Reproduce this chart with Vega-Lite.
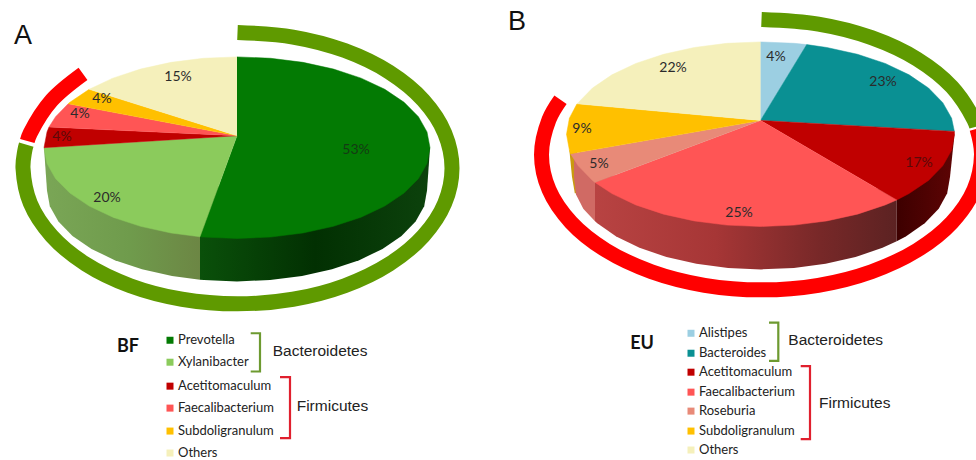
{
  "$schema": "https://vega.github.io/schema/vega-lite/v6.json",
  "width": 976,
  "height": 460,
  "autosize": {"type": "fit", "contains": "padding"},
  "padding": 0,
  "background": "white",
  "view": {"stroke": null},
  "config": {"text": {"font": "Lato"}},
  "datasets": {
    "walls": [
      {"id": "BF wall Prevotella", "xs": [200,203.9,237,270.1,302,332,359.2,382.5,401.5,415.6,424.2,427,430,200], "ys": [280.3,280.6,282,280.6,276.5,269.8,260.7,249.5,236.5,222.1,206.8,191,148,190]},
      {"id": "BF wall Xylanibacter", "xs": [200,200,172,142,114.8,91.5,72.5,58.4,49.8,47,44], "ys": [190,280.3,276.5,269.8,260.7,249.5,236.5,222.1,206.8,191,148]},
      {"id": "EU wall Faecalibacterium", "xs": [595,595,597.3,616.2,639.5,666.5,696.4,728.1,761,793.9,825.6,855.5,882.5,896.7,896.7], "ys": [175,221.7,223.8,237,248.4,257.6,264.4,268.6,270,268.6,264.4,257.6,248.4,241.9,190]},
      {"id": "EU wall Acetitomaculum", "xs": [896.7,896.7,905.8,924.7,938.7,947.2,950,954.5], "ys": [190,241.9,237,223.8,209.1,193.6,177.5,134.5]},
      {"id": "EU wall Subdoligranulum", "xs": [569.4,572,574.8,577,577], "ys": [150.6,177.5,193.6,193.6,150]},
      {"id": "EU wall Roseburia", "xs": [595,595,583.3,576,574,574], "ys": [175,221.7,209.1,195,177.5,150]}
    ],
    "slices": [
      {"id": "BF Prevotella", "part": "Prevotella", "share": 0.53, "xs": [237,237,270.6,303,333.5,361.1,384.8,404.1,418.4,427,430,427,418.4,404.1,384.8,361.1,333.5,303,270.6,237,203.4,200], "ys": [136,57,58.4,62.5,69.2,78.3,89.5,102.5,116.9,132.2,148,163.8,179.1,193.5,206.5,217.7,226.8,233.5,237.6,239,237.6,237.3]},
      {"id": "BF Xylanibacter", "part": "Xylanibacter", "share": 0.20, "xs": [237,200,171,140.5,112.9,89.2,69.9,55.6,47,44], "ys": [136,237.3,233.5,226.8,217.7,206.5,193.5,179.1,163.8,148]},
      {"id": "BF Acetitomaculum", "part": "Acetitomaculum", "share": 0.04, "xs": [237,44,47,49], "ys": [136,148,132.2,127.3]},
      {"id": "BF Faecalibacterium", "part": "Faecalibacterium", "share": 0.04, "xs": [237,49,55.6,68.2], "ys": [136,127.3,116.9,104]},
      {"id": "BF Subdoligranulum", "part": "Subdoligranulum", "share": 0.04, "xs": [237,68.2,69.9,89.2], "ys": [136,104,102.5,89.5]},
      {"id": "BF Others", "part": "Others", "share": 0.15, "xs": [237,89.2,112.9,140.5,171,203.4,237], "ys": [136,89.5,78.3,69.2,62.5,58.4,57]},
      {"id": "EU Alistipes", "part": "Alistipes", "share": 0.04, "xs": [760.5,760.5,794.2,806.7], "ys": [120.7,42,43.4,44.7]},
      {"id": "EU Bacteroides", "part": "Bacteroides", "share": 0.23, "xs": [760.5,806.7,826.8,857.5,885.2,909.1,928.5,942.8,951.6,954.4], "ys": [120.7,44.7,47.6,54.4,63.6,75,88.2,102.9,118.4,131.7]},
      {"id": "EU Acetitomaculum", "part": "Acetitomaculum", "share": 0.17, "xs": [760.5,954.4,954.5,951.6,942.8,928.5,909.1,896.7], "ys": [120.7,131.7,134.5,150.6,166.1,180.8,194,200.4]},
      {"id": "EU Faecalibacterium", "part": "Faecalibacterium", "share": 0.25, "xs": [760.5,896.7,885.2,857.5,826.8,794.2,760.5,726.8,694.2,663.5,635.8,611.9,595], "ys": [120.7,200.4,205.4,214.6,221.4,225.6,227,225.6,221.4,214.6,205.4,194,182.8]},
      {"id": "EU Roseburia", "part": "Roseburia", "share": 0.05, "xs": [760.5,595,592.5,578.2,570.5], "ys": [120.7,182.8,180.8,166.1,154]},
      {"id": "EU Subdoligranulum", "part": "Subdoligranulum", "share": 0.09, "xs": [760.5,570.5,569.4,566.5,569.4,577], "ys": [120.7,154,150.6,134.5,118.4,104]},
      {"id": "EU Others", "part": "Others", "share": 0.22, "xs": [760.5,577,578.2,592.5,611.9,635.8,663.5,694.2,726.8,760.5], "ys": [120.7,104,102.9,88.2,75,63.6,54.4,47.6,43.4,42]}
    ],
    "rings": [
      {"id": "BF Bacteroidetes", "phylum": "Bacteroidetes", "xs": [237.5,293,344.8,389.2,423.3,444.7,452,444.7,423.3,389.2,344.8,293,237.5,182,130.2,85.8,51.7,30.3,23,24.6,26.3], "ys": [32.5,37.1,50.7,72.3,100.5,133.3,168.5,203.7,236.5,264.7,286.3,299.9,304.5,299.9,286.3,264.7,236.5,203.7,168.5,152,144.9]},
      {"id": "BF Firmicutes", "phylum": "Firmicutes", "xs": [27.3,30.3,51.7,83], "ys": [141.3,133.3,100.5,74]},
      {"id": "EU Bacteroidetes", "phylum": "Bacteroidetes", "xs": [761.5,818.4,871.5,917.1,952,974,976.7], "ys": [19.5,24.1,37.7,59.2,87.2,119.9,126.8]},
      {"id": "EU Firmicutes", "phylum": "Firmicutes", "xs": [977,981.5,974,952,917.1,871.5,818.4,761.5,704.6,651.5,605.9,571,549,541.5,549,560.5], "ys": [129,155,190.1,222.8,250.8,272.3,285.9,290.5,285.9,272.3,250.8,222.8,190.1,155,119.9,100]}
    ],
    "brackets": [
      {"id": "BF Bacteroidetes", "phylum": "Bacteroidetes", "xs": [250.7,260,260,250.7], "ys": [334,334,372.3,372.3]},
      {"id": "BF Firmicutes", "phylum": "Firmicutes", "xs": [280,290,290,280], "ys": [378,378,439,439]},
      {"id": "EU Bacteroidetes", "phylum": "Bacteroidetes", "xs": [769,778.3,778.3,769], "ys": [323.3,323.3,361.7,361.7]},
      {"id": "EU Firmicutes", "phylum": "Firmicutes", "xs": [800.7,810,810,800.7], "ys": [367,367,440,440]}
    ],
    "shareLabels": [
      {"part": "Prevotella", "share": 0.53, "x": 356, "y": 150},
      {"part": "Xylanibacter", "share": 0.20, "x": 107, "y": 198},
      {"part": "Acetitomaculum", "share": 0.04, "x": 62, "y": 137},
      {"part": "Faecalibacterium", "share": 0.04, "x": 80, "y": 114},
      {"part": "Subdoligranulum", "share": 0.04, "x": 102, "y": 99},
      {"part": "Others", "share": 0.15, "x": 178, "y": 77},
      {"part": "Alistipes", "share": 0.04, "x": 776, "y": 57},
      {"part": "Bacteroides", "share": 0.23, "x": 883, "y": 82},
      {"part": "Acetitomaculum", "share": 0.17, "x": 919, "y": 163},
      {"part": "Faecalibacterium", "share": 0.25, "x": 739, "y": 213},
      {"part": "Roseburia", "share": 0.05, "x": 599, "y": 164},
      {"part": "Subdoligranulum", "share": 0.09, "x": 582, "y": 129},
      {"part": "Others", "share": 0.22, "x": 673, "y": 68}
    ],
    "key": [
      {"part": "Prevotella", "x": 170, "y": 341},
      {"part": "Xylanibacter", "x": 170, "y": 363},
      {"part": "Acetitomaculum", "x": 170, "y": 387},
      {"part": "Faecalibacterium", "x": 170, "y": 409},
      {"part": "Subdoligranulum", "x": 170, "y": 432},
      {"part": "Others", "x": 170, "y": 454},
      {"part": "Alistipes", "x": 691, "y": 334},
      {"part": "Bacteroides", "x": 691, "y": 354},
      {"part": "Acetitomaculum", "x": 691, "y": 373},
      {"part": "Faecalibacterium", "x": 691, "y": 393},
      {"part": "Roseburia", "x": 691, "y": 412},
      {"part": "Subdoligranulum", "x": 691, "y": 432},
      {"part": "Others", "x": 691, "y": 451}
    ],
    "phylumNames": [
      {"name": "Bacteroidetes", "x": 272.7, "y": 352},
      {"name": "Firmicutes", "x": 296.7, "y": 407},
      {"name": "Bacteroidetes", "x": 788.3, "y": 341},
      {"name": "Firmicutes", "x": 819, "y": 404}
    ],
    "panelLetters": [
      {"name": "A", "x": 23, "y": 36},
      {"name": "B", "x": 517, "y": 22}
    ],
    "groupNames": [
      {"name": "BF", "x": 128, "y": 348},
      {"name": "EU", "x": 642, "y": 345}
    ]
  },
  "encoding": {
    "x": {"field": "x", "type": "quantitative", "scale": {"domain": [0, 976], "nice": false, "zero": false}, "axis": null},
    "y": {"field": "y", "type": "quantitative", "scale": {"domain": [460, 0], "nice": false, "zero": false}, "axis": null}
  },
  "layer": [
    {
      "data": {"name": "walls"},
      "transform": [
        {"filter": "datum.id == 'BF wall Prevotella'"},
        {"flatten": ["xs", "ys"], "as": ["x", "y"]},
        {"window": [{"op": "row_number", "as": "i"}], "groupby": ["id"]}
      ],
      "mark": {"type": "line", "filled": true, "stroke": null, "fill": {"gradient": "linear", "x1": 0, "y1": 0, "x2": 1, "y2": 0, "stops": [{"offset": 0, "color": "#0a500a"}, {"offset": 0.5, "color": "#023002"}, {"offset": 1, "color": "#0c420c"}]}},
      "encoding": {"order": {"field": "i"}}
    },
    {
      "data": {"name": "walls"},
      "transform": [
        {"filter": "datum.id == 'BF wall Xylanibacter'"},
        {"flatten": ["xs", "ys"], "as": ["x", "y"]},
        {"window": [{"op": "row_number", "as": "i"}], "groupby": ["id"]}
      ],
      "mark": {"type": "line", "filled": true, "stroke": null, "fill": {"gradient": "linear", "x1": 0, "y1": 0, "x2": 1, "y2": 0, "stops": [{"offset": 0, "color": "#7aa656"}, {"offset": 0.55, "color": "#6f9b4c"}, {"offset": 1, "color": "#6c8644"}]}},
      "encoding": {"order": {"field": "i"}}
    },
    {
      "data": {"name": "walls"},
      "transform": [
        {"filter": "datum.id == 'EU wall Faecalibacterium'"},
        {"flatten": ["xs", "ys"], "as": ["x", "y"]},
        {"window": [{"op": "row_number", "as": "i"}], "groupby": ["id"]}
      ],
      "mark": {"type": "line", "filled": true, "stroke": null, "fill": {"gradient": "linear", "x1": 0, "y1": 0, "x2": 1, "y2": 0, "stops": [{"offset": 0, "color": "#b84342"}, {"offset": 0.4, "color": "#a63636"}, {"offset": 0.75, "color": "#772828"}, {"offset": 1, "color": "#5c2222"}]}},
      "encoding": {"order": {"field": "i"}}
    },
    {
      "data": {"name": "walls"},
      "transform": [
        {"filter": "datum.id == 'EU wall Acetitomaculum'"},
        {"flatten": ["xs", "ys"], "as": ["x", "y"]},
        {"window": [{"op": "row_number", "as": "i"}], "groupby": ["id"]}
      ],
      "mark": {"type": "line", "filled": true, "stroke": null, "fill": {"gradient": "linear", "x1": 0, "y1": 0, "x2": 1, "y2": 0, "stops": [{"offset": 0, "color": "#3d0000"}, {"offset": 1, "color": "#5e0404"}]}},
      "encoding": {"order": {"field": "i"}}
    },
    {
      "data": {"name": "walls"},
      "transform": [
        {"filter": "datum.id == 'EU wall Subdoligranulum'"},
        {"flatten": ["xs", "ys"], "as": ["x", "y"]},
        {"window": [{"op": "row_number", "as": "i"}], "groupby": ["id"]}
      ],
      "mark": {"type": "line", "filled": true, "stroke": null, "fill": "#c99a10"},
      "encoding": {"order": {"field": "i"}}
    },
    {
      "data": {"name": "walls"},
      "transform": [
        {"filter": "datum.id == 'EU wall Roseburia'"},
        {"flatten": ["xs", "ys"], "as": ["x", "y"]},
        {"window": [{"op": "row_number", "as": "i"}], "groupby": ["id"]}
      ],
      "mark": {"type": "line", "filled": true, "stroke": null, "fill": "#d06a64"},
      "encoding": {"order": {"field": "i"}}
    },
    {
      "data": {"name": "slices"},
      "transform": [
        {"flatten": ["xs", "ys"], "as": ["x", "y"]},
        {"window": [{"op": "row_number", "as": "i"}], "groupby": ["id"]}
      ],
      "mark": {"type": "line", "filled": true, "strokeWidth": 0.5},
      "encoding": {
        "detail": {"field": "id"},
        "order": {"field": "i"},
        "fill": {
          "field": "part", "type": "nominal", "legend": null,
          "scale": {
            "domain": ["Prevotella", "Xylanibacter", "Alistipes", "Bacteroides", "Acetitomaculum", "Faecalibacterium", "Roseburia", "Subdoligranulum", "Others"],
            "range": ["#037a03", "#8bcb5c", "#9ccfe2", "#0a9093", "#c00000", "#ff5555", "#e88a78", "#ffc000", "#f5f0bb"]
          }
        },
        "stroke": {
          "field": "part", "type": "nominal", "legend": null,
          "scale": {
            "domain": ["Prevotella", "Xylanibacter", "Alistipes", "Bacteroides", "Acetitomaculum", "Faecalibacterium", "Roseburia", "Subdoligranulum", "Others", "Bacteroidetes", "Firmicutes"],
            "range": ["#037a03", "#8bcb5c", "#9ccfe2", "#0a9093", "#c00000", "#ff5555", "#e88a78", "#ffc000", "#f5f0bb", "#5f9a00", "#ff0000"]
          }
        }
      }
    },
    {
      "data": {"name": "rings"},
      "transform": [
        {"flatten": ["xs", "ys"], "as": ["x", "y"]},
        {"window": [{"op": "row_number", "as": "i"}], "groupby": ["id"]}
      ],
      "mark": {"type": "line", "strokeWidth": 15, "interpolate": "catmull-rom", "clip": true},
      "encoding": {
        "detail": {"field": "id"},
        "order": {"field": "i"},
        "stroke": {"field": "phylum", "type": "nominal", "legend": null}
      }
    },
    {
      "data": {"name": "brackets"},
      "transform": [
        {"filter": "datum.phylum == 'Bacteroidetes'"},
        {"flatten": ["xs", "ys"], "as": ["x", "y"]},
        {"window": [{"op": "row_number", "as": "i"}], "groupby": ["id"]}
      ],
      "mark": {"type": "line", "strokeWidth": 2.2, "stroke": "#6d9a30"},
      "encoding": {"detail": {"field": "id"}, "order": {"field": "i"}}
    },
    {
      "data": {"name": "brackets"},
      "transform": [
        {"filter": "datum.phylum == 'Firmicutes'"},
        {"flatten": ["xs", "ys"], "as": ["x", "y"]},
        {"window": [{"op": "row_number", "as": "i"}], "groupby": ["id"]}
      ],
      "mark": {"type": "line", "strokeWidth": 2.2, "stroke": "#e0202e"},
      "encoding": {"detail": {"field": "id"}, "order": {"field": "i"}}
    },
    {
      "data": {"name": "shareLabels"},
      "transform": [{"filter": "datum.part != 'Acetitomaculum' && datum.part != 'Prevotella'"}],
      "mark": {"type": "text", "font": "Lato", "fontSize": 14, "fill": "#2b2b2b"},
      "encoding": {"text": {"field": "share", "type": "quantitative", "format": ".0%"}}
    },
    {
      "data": {"name": "shareLabels"},
      "transform": [{"filter": "datum.part == 'Prevotella'"}],
      "mark": {"type": "text", "font": "Lato", "fontSize": 14, "fill": "#143a14"},
      "encoding": {"text": {"field": "share", "type": "quantitative", "format": ".0%"}}
    },
    {
      "data": {"name": "shareLabels"},
      "transform": [{"filter": "datum.part == 'Acetitomaculum'"}],
      "mark": {"type": "text", "font": "Lato", "fontSize": 14, "fill": "#5a0a0a"},
      "encoding": {"text": {"field": "share", "type": "quantitative", "format": ".0%"}}
    },
    {
      "data": {"name": "key"},
      "mark": {"type": "point", "shape": "square", "filled": true, "size": 49, "opacity": 1},
      "encoding": {"fill": {"field": "part", "type": "nominal", "legend": null}}
    },
    {
      "data": {"name": "key"},
      "mark": {"type": "text", "font": "Lato", "fontSize": 13, "align": "left", "dx": 8, "fill": "#222222"},
      "encoding": {"text": {"field": "part", "type": "nominal"}}
    },
    {
      "data": {"name": "phylumNames"},
      "mark": {"type": "text", "font": "Liberation Sans", "fontSize": 15.5, "align": "left", "fill": "#222222"},
      "encoding": {"text": {"field": "name", "type": "nominal"}}
    },
    {
      "data": {"name": "panelLetters"},
      "mark": {"type": "text", "font": "Liberation Sans", "fontSize": 27, "fill": "#111111"},
      "encoding": {"text": {"field": "name", "type": "nominal"}}
    },
    {
      "data": {"name": "groupNames"},
      "mark": {"type": "text", "font": "Lato", "fontWeight": "bold", "fontSize": 18, "fill": "#111111"},
      "encoding": {"text": {"field": "name", "type": "nominal"}}
    }
  ]
}
